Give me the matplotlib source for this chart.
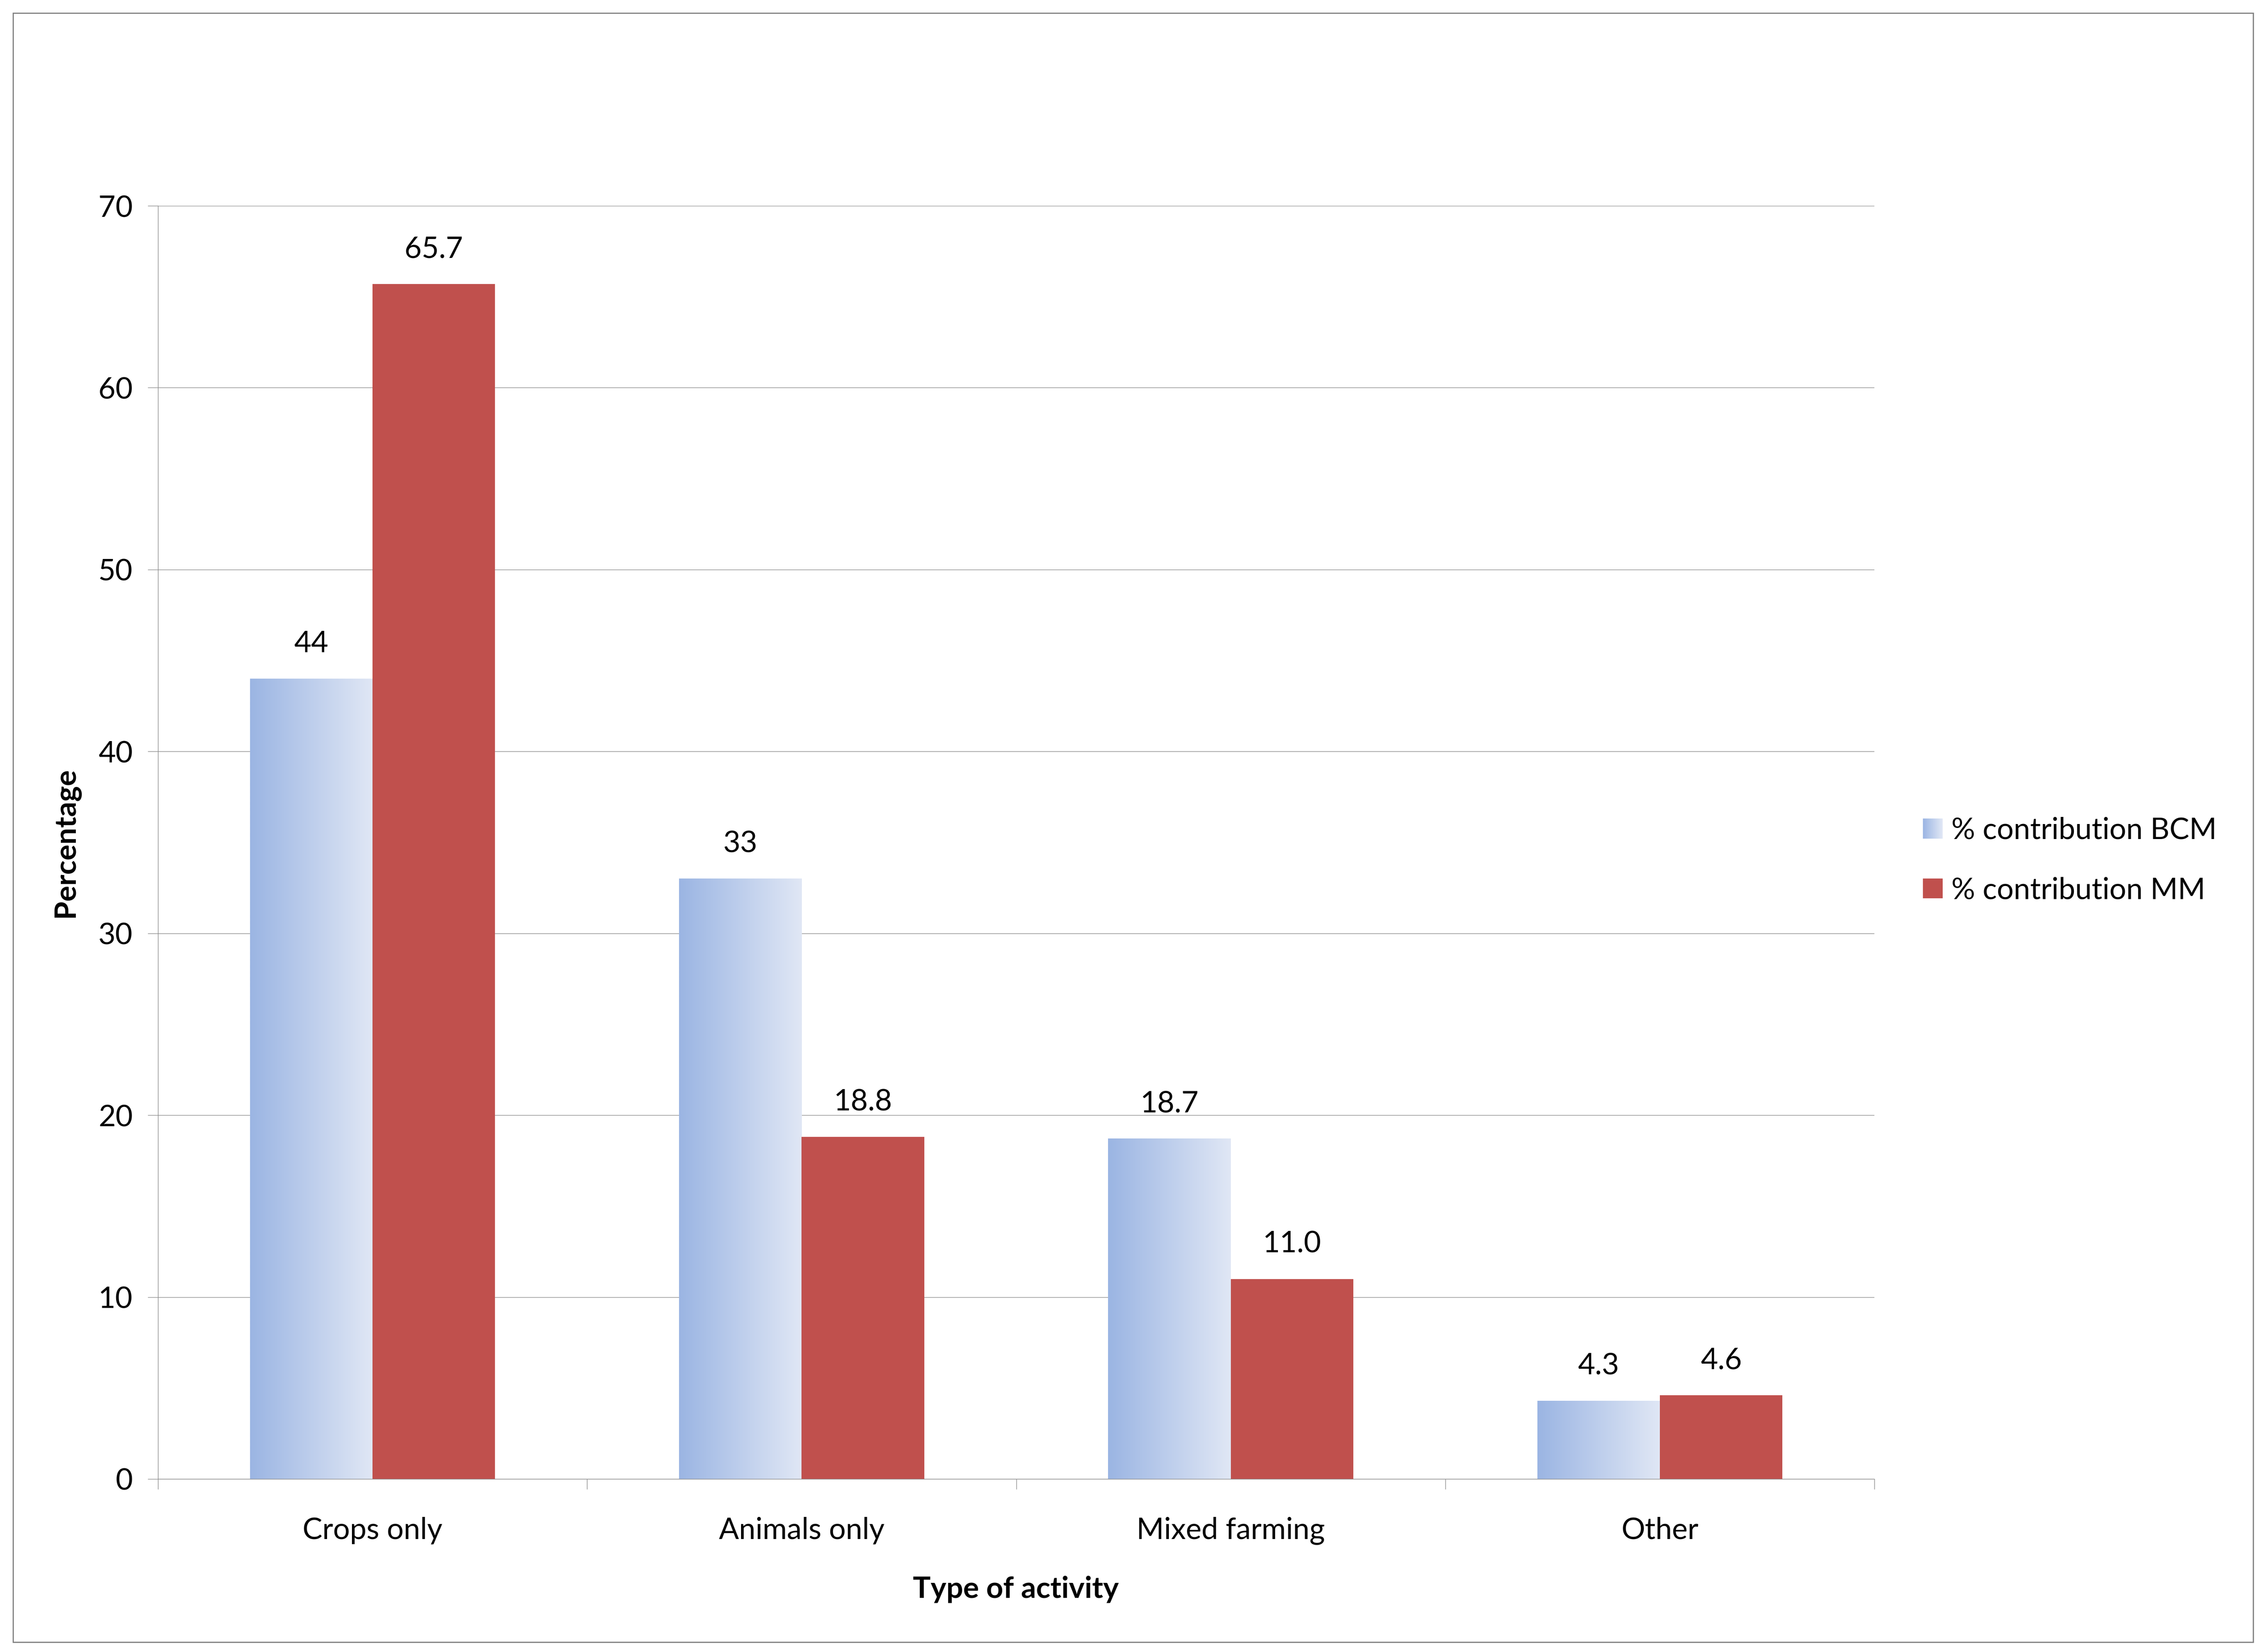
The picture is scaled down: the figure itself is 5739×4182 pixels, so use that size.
import matplotlib
matplotlib.use('Agg')
import matplotlib.pyplot as plt
import numpy as np
from matplotlib.patches import Rectangle
from matplotlib.legend_handler import HandlerBase
from matplotlib.colors import LinearSegmentedColormap, to_rgb

# ---- data ----
categories = ['Crops only', 'Animals only', 'Mixed farming', 'Other']
bcm = [44, 33, 18.7, 4.3]
mm = [65.7, 18.8, 11.0, 4.6]
bcm_labels = ['44', '33', '18.7', '4.3']
mm_labels = ['65.7', '18.8', '11.0', '4.6']
series_names = ['% contribution BCM', '% contribution MM']
yticks = [0, 10, 20, 30, 40, 50, 60, 70]
xlabel = 'Type of activity'
ylabel = 'Percentage'

# ---- style ----
W, H = 5739, 4182
DPI = 300
plt.rcParams['font.family'] = ['Lato', 'DejaVu Sans']
FS = 18
GREY = '#8C8C8C'
GRAD_L, GRAD_R = '#9BB5E3', '#E0E7F5'
RED = '#C0504D'

fig = plt.figure(figsize=(W / DPI, H / DPI), dpi=DPI)
fig.patch.set_facecolor('white')
ax = fig.add_axes([400 / W, 1 - 3744 / H, (4745 - 400) / W, (3744 - 521) / H])

x = np.arange(len(categories))
w = 0.2857
cmap = LinearSegmentedColormap.from_list('g', [GRAD_L, GRAD_R])
grad = np.linspace(0, 1, 256).reshape(1, -1)

b1 = ax.bar(x - w / 2, bcm, w, color='none', edgecolor='none', zorder=2)
for p in b1:
    x0, y0, ww, hh = p.get_x(), p.get_y(), p.get_width(), p.get_height()
    ax.imshow(grad, cmap=cmap, extent=[x0, x0 + ww, y0, y0 + hh],
              aspect='auto', zorder=2, interpolation='bilinear')
b2 = ax.bar(x + w / 2, mm, w, color=RED, edgecolor='none', zorder=2)

for p, lab in zip(b1, bcm_labels):
    ax.annotate(lab, (p.get_x() + p.get_width() / 2, p.get_height()),
                xytext=(0, 16), textcoords='offset points', ha='center',
                va='baseline', fontsize=FS, color='black')
for p, lab in zip(b2, mm_labels):
    ax.annotate(lab, (p.get_x() + p.get_width() / 2, p.get_height()),
                xytext=(0, 16), textcoords='offset points', ha='center',
                va='baseline', fontsize=FS, color='black')

ax.set_xlim(-0.5, len(categories) - 0.5)
ax.set_ylim(0, 70)
ax.set_yticks(yticks)
ax.set_yticklabels([str(t) for t in yticks], fontsize=FS)
ax.set_xticks(x)
ax.set_xticklabels(categories, fontsize=FS)
ax.set_xticks(np.arange(-0.5, len(categories), 1.0), minor=True)
ax.tick_params(axis='x', which='major', length=0, pad=23)
ax.tick_params(axis='x', which='minor', length=6.3, width=0.35, color=GREY, direction='out')
ax.tick_params(axis='y', which='major', length=6.3, width=0.35, color=GREY, pad=9, direction='out')

ax.set_axisbelow(True)
ax.yaxis.grid(True, color=GREY, lw=0.35)
for s in ['top', 'right']:
    ax.spines[s].set_visible(False)
for s in ['left', 'bottom']:
    ax.spines[s].set_color(GREY)
    ax.spines[s].set_linewidth(0.35)

fig.text(2572 / W, 1 - 4023 / H, xlabel, ha='center', va='center',
         fontsize=FS, fontweight='bold')
fig.text(167 / W, 1 - 2132 / H, ylabel, ha='center', va='center',
         rotation=90, fontsize=FS, fontweight='bold')


class GradientHandler(HandlerBase):
    def create_artists(self, legend, orig_handle, xdescent, ydescent,
                       width, height, fontsize, trans):
        n = 40
        arts = []
        c0 = np.array(to_rgb(GRAD_L))
        c1 = np.array(to_rgb(GRAD_R))
        for i in range(n):
            t = i / (n - 1)
            r = Rectangle((-xdescent + width * i / n, -ydescent), width / n * 1.05,
                          height, facecolor=c0 * (1 - t) + c1 * t,
                          edgecolor='none', transform=trans)
            arts.append(r)
        return arts


h1 = Rectangle((0, 0), 1, 1, facecolor=GRAD_L)
h2 = Rectangle((0, 0), 1, 1, facecolor=RED, edgecolor='none')
fig.legend([h1, h2], series_names, loc='center left',
           bbox_to_anchor=(4868 / W, 1 - 2178 / H), frameon=False,
           fontsize=FS, handlelength=0.66, handleheight=0.66,
           handletextpad=0.3, labelspacing=1.1, borderpad=0, borderaxespad=0,
           handler_map={h1: GradientHandler()})

fig.patches.append(Rectangle((33 / W, 1 - 4157 / H), (5704 - 33) / W, (4157 - 33) / H,
                             transform=fig.transFigure, fill=False,
                             edgecolor='#808080', lw=0.7))

fig.savefig('out.png', dpi=DPI, facecolor='white')
